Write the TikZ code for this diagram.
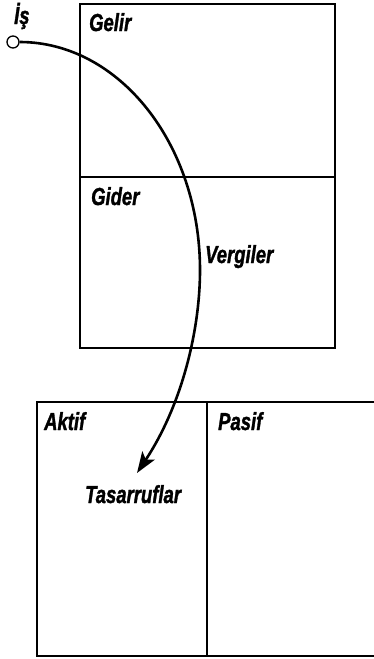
\documentclass[tikz,border=0pt]{standalone}
\usepackage{fontspec}
\setmainfont{Liberation Sans}
\newfontface\heavy{Liberation Sans Bold Italic}[FakeBold=1.6]
\usetikzlibrary{arrows.meta}
\tikzset{
  boxline/.style={line width=1.4pt},
  lbl/.style={anchor=base west, inner sep=0pt, font=\fontsize{22}{24}\selectfont\heavy, xscale=0.84, yscale=1.12},
  flow/.style={line width=2.6pt, -{Stealth[length=21pt,width=15pt,inset=5pt]}},
  startpt/.style={circle, draw, line width=1.3pt, fill=white, minimum size=12pt, inner sep=0pt}
}
\begin{document}
\begin{tikzpicture}[x=1pt,y=-1pt]
\useasboundingbox (0,0) rectangle (373,659);
% top box
\coordinate (tl) at (80,4);
\coordinate (br) at (335,348);
\draw[boxline] (tl) rectangle (br);
\coordinate (divl) at (80,177);
\coordinate (divr) at (335,177);
\draw[boxline] (divl) -- (divr);
% bottom box
\coordinate (btl) at (37,402);
\coordinate (bbr) at (375,656);
\draw[boxline] (btl) rectangle (bbr);
\coordinate (vtop) at (207,402);
\coordinate (vbot) at (207,656);
\draw[boxline] (vtop) -- (vbot);
% labels
\node[lbl] (is) at (14,24) {İş};
\node[lbl] (gelir) at (89,31) {Gelir};
\node[lbl] (gider) at (91,205) {Gider};
\node[lbl] (vergiler) at (205,263) {Vergiler};
\node[lbl] (aktif) at (44,430) {Aktif};
\node[lbl] (pasif) at (218,430) {Pasif};
\node[lbl] (tasarruflar) at (85,503) {Tasarruflar};
% flow
\node[startpt] (start) at (13,42) {};
\coordinate (mid) at (200,270);
\coordinate (tip) at (137,473);
\draw[flow] (start.east) .. controls (119,42) and (200,144) .. (mid)
  .. controls (200,330) and (182,405) .. (tip);
\end{tikzpicture}
\end{document}
